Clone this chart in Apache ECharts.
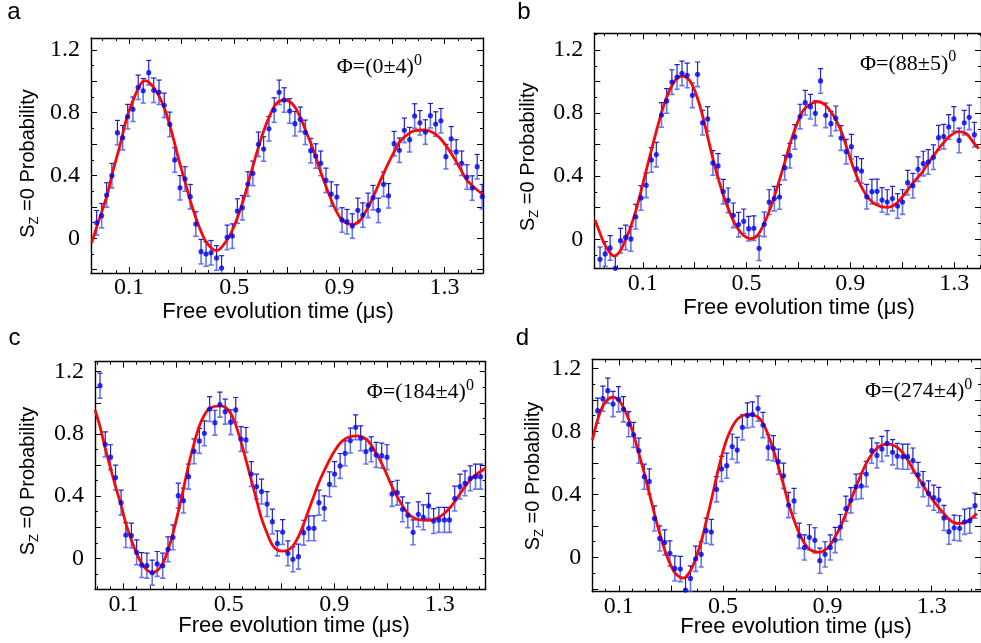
<!DOCTYPE html>
<html><head><meta charset="utf-8">
<script src="https://cdn.jsdelivr.net/npm/echarts@6/dist/echarts.min.js"></script>
<style>html,body{margin:0;padding:0;background:#fff}#c{width:981px;height:643px}</style>
</head><body><div id="c"></div>
<script>
// ---------- tick labels ----------
const xTickLabels = [0.1, 0.5, 0.9, 1.3];
const yTickLabels = [0, 0.4, 0.8, 1.2];
const xMajorTicks = [-0.1, 0.1, 0.3, 0.5, 0.7, 0.9, 1.1, 1.3, 1.5];
const xMinorTicks = [-0.1,-0.05,0,0.05,0.1,0.15,0.2,0.25,0.3,0.35,0.4,0.45,0.5,0.55,0.6,0.65,0.7,0.75,0.8,0.85,0.9,0.95,1.0,1.05,1.1,1.15,1.2,1.25,1.3,1.35,1.4,1.45,1.5];
const yMajorTicks = [-0.2, 0, 0.2, 0.4, 0.6, 0.8, 1.0, 1.2];
const yMinorTicks = [-0.2,-0.1,0,0.1,0.2,0.3,0.4,0.5,0.6,0.7,0.8,0.9,1.0,1.1,1.2,1.3];
const panelLetters = ['a', 'b', 'c', 'd'];
const phiLabels = ['Φ=(0±4)', 'Φ=(88±5)', 'Φ=(184±4)', 'Φ=(274±4)'];
const xTitle = 'Free evolution time (μs)';
const errorHalf = [0.078, 0.078, 0.08, 0.08];

// ---------- panel a ----------
const aTime = [-0.023,-0.004,0.015,0.035,0.056,0.076,0.095,0.115,0.135,0.154,0.175,0.194,0.214,0.234,0.255,0.274,0.294,0.313,0.333,0.354,0.374,0.393,0.412,0.433,0.452,0.473,0.493,0.512,0.531,0.552,0.571,0.592,0.612,0.632,0.652,0.671,0.690,0.711,0.731,0.751,0.770,0.791,0.810,0.829,0.849,0.869,0.890,0.910,0.929,0.949,0.970,0.989,1.009,1.028,1.048,1.068,1.087,1.108,1.128,1.147,1.167,1.186,1.206,1.227,1.246,1.266,1.286,1.305,1.325,1.344,1.365,1.385,1.405,1.424,1.443];
const aProb = [0.099,0.144,0.276,0.399,0.673,0.641,0.775,0.822,0.962,0.940,1.055,0.943,0.930,0.847,0.726,0.499,0.322,0.378,0.265,0.091,-0.085,-0.100,-0.092,-0.125,-0.189,0.006,0.014,0.174,0.195,0.346,0.414,0.599,0.569,0.698,0.817,0.930,0.881,0.811,0.730,0.758,0.675,0.558,0.524,0.478,0.369,0.282,0.263,0.117,0.106,0.078,0.178,0.148,0.210,0.259,0.178,0.344,0.271,0.603,0.561,0.688,0.628,0.779,0.736,0.677,0.781,0.728,0.749,0.520,0.634,0.550,0.478,0.390,0.320,0.456,0.265];
const aFitT = [-0.042,-0.010,0.015,0.040,0.066,0.091,0.116,0.142,0.161,0.186,0.212,0.237,0.262,0.288,0.313,0.338,0.364,0.389,0.414,0.431,0.452,0.484,0.509,0.535,0.560,0.585,0.611,0.636,0.661,0.693,0.725,0.750,0.776,0.801,0.826,0.852,0.877,0.902,0.928,0.953,0.978,1.004,1.029,1.054,1.080,1.105,1.130,1.156,1.187,1.225,1.257,1.283,1.308,1.333,1.359,1.384,1.416,1.445];
const aFitY = [-0.028,0.138,0.265,0.435,0.594,0.764,0.881,0.977,1.004,0.977,0.913,0.817,0.679,0.509,0.361,0.212,0.085,-0.011,-0.064,-0.079,-0.058,0.021,0.117,0.244,0.393,0.541,0.679,0.785,0.860,0.881,0.849,0.775,0.669,0.563,0.435,0.318,0.212,0.133,0.095,0.089,0.113,0.181,0.266,0.361,0.457,0.541,0.616,0.658,0.686,0.690,0.673,0.637,0.584,0.520,0.446,0.372,0.319,0.281];

// ---------- panel b ----------
const bTime = [-0.065,-0.045,-0.026,-0.006,0.014,0.034,0.054,0.073,0.093,0.113,0.133,0.152,0.172,0.192,0.212,0.232,0.251,0.271,0.291,0.311,0.330,0.350,0.370,0.390,0.410,0.429,0.449,0.469,0.489,0.508,0.528,0.548,0.568,0.587,0.607,0.627,0.647,0.667,0.686,0.706,0.726,0.746,0.765,0.785,0.805,0.825,0.844,0.864,0.884,0.904,0.924,0.943,0.963,0.983,1.003,1.022,1.042,1.062,1.082,1.101,1.121,1.141,1.161,1.181,1.200,1.220,1.240,1.260,1.279,1.299,1.319,1.339,1.358,1.378];
const bProb = [-0.127,-0.093,-0.055,-0.184,-0.009,0.012,0.002,0.143,0.262,0.342,0.503,0.537,0.788,0.877,0.997,1.029,1.052,1.039,0.913,1.046,0.739,0.763,0.484,0.465,0.302,0.247,0.152,0.093,0.114,0.067,0.070,-0.057,0.095,0.236,0.258,0.268,0.454,0.530,0.649,0.778,0.866,0.841,0.799,1.004,0.786,0.733,0.767,0.642,0.556,0.587,0.446,0.433,0.270,0.302,0.304,0.249,0.236,0.258,0.211,0.236,0.359,0.340,0.444,0.480,0.490,0.520,0.644,0.651,0.712,0.763,0.627,0.739,0.773,0.663];
const bFitT = [-0.084,-0.065,-0.046,-0.027,-0.012,0.011,0.030,0.049,0.074,0.099,0.125,0.150,0.175,0.201,0.226,0.251,0.277,0.302,0.328,0.353,0.378,0.404,0.429,0.454,0.480,0.499,0.518,0.543,0.568,0.594,0.619,0.644,0.670,0.695,0.720,0.752,0.777,0.803,0.834,0.860,0.885,0.910,0.936,0.961,0.987,1.018,1.047,1.075,1.101,1.126,1.151,1.177,1.189,1.221,1.253,1.284,1.316,1.348,1.379,1.395];
const bFitY = [0.122,0.038,-0.036,-0.085,-0.106,-0.079,-0.015,0.059,0.186,0.344,0.513,0.671,0.819,0.936,1.010,1.035,1.014,0.936,0.799,0.629,0.460,0.312,0.196,0.101,0.038,0.013,0.004,0.027,0.101,0.207,0.334,0.471,0.619,0.735,0.820,0.862,0.872,0.851,0.787,0.703,0.587,0.461,0.355,0.281,0.232,0.207,0.203,0.224,0.271,0.324,0.376,0.425,0.455,0.530,0.600,0.655,0.683,0.668,0.604,0.575];

// ---------- panel c ----------
const cTime = [0.011,0.031,0.051,0.070,0.091,0.109,0.130,0.150,0.169,0.189,0.209,0.228,0.249,0.269,0.288,0.308,0.328,0.347,0.368,0.388,0.407,0.427,0.447,0.466,0.486,0.507,0.526,0.546,0.565,0.585,0.605,0.624,0.645,0.665,0.684,0.704,0.724,0.743,0.764,0.784,0.803,0.823,0.842,0.862,0.882,0.901,0.922,0.941,0.961,0.981,1.000,1.020,1.040,1.059,1.080,1.100,1.119,1.139,1.159,1.179,1.199,1.219,1.238,1.258,1.277,1.297,1.318,1.337,1.357,1.377,1.396,1.416,1.436,1.455];
const cProb = [1.110,0.733,0.650,0.519,0.358,0.150,0.146,0.039,-0.043,-0.047,-0.092,-0.036,-0.047,0.058,0.135,0.403,0.371,0.525,0.688,0.755,0.804,0.960,0.872,0.988,0.943,0.875,0.954,0.767,0.761,0.542,0.461,0.429,0.349,0.236,0.096,0.169,0.032,-0.006,0.011,0.165,0.193,0.193,0.358,0.322,0.476,0.542,0.594,0.675,0.757,0.842,0.772,0.686,0.701,0.665,0.660,0.650,0.414,0.422,0.315,0.277,0.167,0.283,0.264,0.337,0.240,0.247,0.247,0.247,0.384,0.461,0.482,0.514,0.525,0.525];
const cFitT = [-0.008,0.011,0.031,0.051,0.070,0.091,0.109,0.130,0.150,0.169,0.189,0.209,0.228,0.249,0.269,0.288,0.308,0.328,0.347,0.368,0.388,0.407,0.427,0.466,0.486,0.507,0.526,0.546,0.565,0.585,0.605,0.624,0.645,0.665,0.684,0.704,0.724,0.743,0.764,0.784,0.803,0.823,0.842,0.862,0.882,0.901,0.922,0.941,0.961,0.991,1.020,1.040,1.059,1.080,1.100,1.119,1.139,1.159,1.179,1.199,1.225,1.257,1.277,1.297,1.318,1.337,1.357,1.377,1.396,1.416,1.436,1.474];
const cFitY = [0.954,0.847,0.707,0.579,0.461,0.343,0.225,0.118,0.032,-0.032,-0.075,-0.092,-0.079,-0.032,0.054,0.161,0.300,0.450,0.600,0.739,0.851,0.921,0.965,0.980,0.971,0.933,0.858,0.750,0.632,0.504,0.375,0.257,0.161,0.086,0.054,0.047,0.054,0.079,0.139,0.221,0.311,0.403,0.489,0.564,0.632,0.690,0.740,0.768,0.783,0.787,0.768,0.729,0.675,0.611,0.536,0.461,0.397,0.337,0.290,0.262,0.247,0.245,0.251,0.264,0.290,0.322,0.365,0.414,0.461,0.504,0.536,0.579];

// ---------- panel d ----------
const dTime = [0.019,0.039,0.058,0.078,0.099,0.118,0.138,0.157,0.177,0.198,0.217,0.237,0.257,0.276,0.296,0.315,0.336,0.356,0.375,0.395,0.416,0.435,0.455,0.475,0.494,0.514,0.535,0.554,0.574,0.593,0.613,0.634,0.653,0.673,0.693,0.712,0.732,0.751,0.772,0.792,0.812,0.831,0.852,0.871,0.891,0.911,0.930,0.950,0.971,0.990,1.010,1.030,1.049,1.070,1.090,1.109,1.129,1.150,1.168,1.189,1.208,1.228,1.248,1.267,1.288,1.308,1.327,1.347,1.366,1.386,1.407,1.426,1.446,1.466];
const dProb = [0.931,1.007,1.058,0.973,1.003,0.940,0.845,0.777,0.677,0.512,0.482,0.247,0.120,0.095,0.025,-0.070,-0.074,-0.208,-0.134,-0.009,0.019,0.169,0.161,0.432,0.561,0.582,0.703,0.681,0.825,0.901,0.907,0.944,0.840,0.698,0.692,0.607,0.518,0.332,0.358,0.137,0.063,0.127,0.108,-0.021,0.019,0.063,0.110,0.192,0.309,0.362,0.448,0.453,0.529,0.677,0.647,0.688,0.724,0.667,0.643,0.639,0.639,0.614,0.523,0.465,0.406,0.379,0.364,0.250,0.163,0.188,0.184,0.226,0.233,0.328];
const dFitT = [-0.001,0.019,0.039,0.058,0.078,0.099,0.118,0.138,0.157,0.177,0.198,0.217,0.237,0.257,0.276,0.296,0.315,0.336,0.345,0.356,0.375,0.395,0.416,0.435,0.455,0.475,0.494,0.514,0.535,0.554,0.574,0.593,0.611,0.634,0.653,0.673,0.693,0.712,0.732,0.751,0.772,0.792,0.812,0.831,0.852,0.871,0.891,0.911,0.930,0.950,0.971,0.990,1.010,1.030,1.049,1.070,1.090,1.109,1.137,1.168,1.189,1.208,1.228,1.248,1.267,1.282,1.314,1.346,1.378,1.403,1.435,1.473];
const dFitY = [0.745,0.872,0.961,1.003,1.016,0.999,0.952,0.876,0.777,0.660,0.533,0.406,0.275,0.152,0.047,-0.038,-0.098,-0.127,-0.131,-0.127,-0.085,-0.007,0.099,0.226,0.364,0.512,0.639,0.750,0.828,0.876,0.899,0.908,0.905,0.890,0.851,0.777,0.682,0.576,0.459,0.343,0.237,0.152,0.089,0.051,0.036,0.032,0.047,0.078,0.131,0.195,0.279,0.364,0.449,0.529,0.597,0.654,0.692,0.713,0.719,0.698,0.664,0.618,0.559,0.505,0.459,0.417,0.343,0.279,0.226,0.215,0.226,0.279];

const panelData = [
  {t: aTime, p: aProb, ft: aFitT, fy: aFitY},
  {t: bTime, p: bProb, ft: bFitT, fy: bFitY},
  {t: cTime, p: cProb, ft: cFitT, fy: cFitY},
  {t: dTime, p: dProb, ft: dFitT, fy: dFitY}
];

// ---------- layout (pixels, styles) ----------
const layout = [
  {grid:{left:91, top:38, width:392, height:235}, x:[-0.0445,1.446], y:[-0.221,1.276], letter:[14,12.5], xt:[278,312], yt:[34,163.5], phi:[336.7,67.5]},
  {grid:{left:594.3, top:33.3, width:392, height:235}, x:[-0.087,1.4035], y:[-0.184,1.306], letter:[524,12.8], xt:[799,308], yt:[534,156.7], phi:[860,64]},
  {grid:{left:95, top:361.7, width:390.7, height:227.6}, x:[-0.008,1.4746], y:[-0.199,1.264], letter:[14.5,338.8], xt:[294,626], yt:[34,481], phi:[366.7,392.5]},
  {grid:{left:592.3, top:359.3, width:392, height:232.4}, x:[-0.0015,1.489], y:[-0.218,1.257], letter:[522.5,338.3], xt:[796,627], yt:[539,476], phi:[865,391.7]}
];

const SERIF = 'Liberation Serif';
const SANS = 'Liberation Sans';
const frameLine = {show:true, onZero:false, lineStyle:{color:'#000', width:1.4}};
const noLine = {show:false, onZero:false};
function tick(len, vals){ return {show:true, inside:true, length:len, customValues:vals, lineStyle:{color:'#000', width:1}}; }

const grids = [], xAxes = [], yAxes = [], series = [], graphics = [];
layout.forEach((L, i) => {
  grids.push(Object.assign({containLabel:false}, L.grid));
  const bx = {gridIndex:i, type:'value', min:L.x[0], max:L.x[1], splitLine:{show:false}};
  const by = {gridIndex:i, type:'value', min:L.y[0], max:L.y[1], splitLine:{show:false}};
  xAxes.push(
    Object.assign({}, bx, {position:'bottom', axisLine:frameLine, axisTick:tick(6, xMajorTicks),
      axisLabel:{show:true, customValues:xTickLabels, margin:3, color:'#000', fontFamily:SERIF, fontSize:24}}),
    Object.assign({}, bx, {position:'bottom', axisLine:noLine, axisTick:tick(3, xMinorTicks), axisLabel:{show:false}}),
    Object.assign({}, bx, {position:'top', axisLine:frameLine, axisTick:tick(6, xMajorTicks), axisLabel:{show:false}}),
    Object.assign({}, bx, {position:'top', axisLine:noLine, axisTick:tick(3, xMinorTicks), axisLabel:{show:false}})
  );
  yAxes.push(
    Object.assign({}, by, {position:'left', axisLine:frameLine, axisTick:tick(6, yMajorTicks),
      axisLabel:{show:true, customValues:yTickLabels, margin:11, color:'#000', fontFamily:SERIF, fontSize:24}}),
    Object.assign({}, by, {position:'left', axisLine:noLine, axisTick:tick(3, yMinorTicks), axisLabel:{show:false}}),
    Object.assign({}, by, {position:'right', axisLine:frameLine, axisTick:tick(6, yMajorTicks), axisLabel:{show:false}}),
    Object.assign({}, by, {position:'right', axisLine:noLine, axisTick:tick(3, yMinorTicks), axisLabel:{show:false}})
  );
  const D = panelData[i];
  const err = errorHalf[i];
  series.push({
    type:'custom', xAxisIndex:4*i, yAxisIndex:4*i, clip:true, silent:true, z:2,
    data: D.t.map((t, k) => [t, D.p[k], err]),
    renderItem: function(params, api){
      const x = api.value(0), y = api.value(1), e = api.value(2);
      const c = api.coord([x, y]), hi = api.coord([x, y + e]), lo = api.coord([x, y - e]);
      const cw = 2.6;
      return {type:'group', children:[
        {type:'line', shape:{x1:c[0], y1:hi[1], x2:c[0], y2:c[1]}, style:{stroke:'#1f1fd0', lineWidth:1.2}},
        {type:'line', shape:{x1:c[0]-cw, y1:hi[1], x2:c[0]+cw, y2:hi[1]}, style:{stroke:'#1f1fd0', lineWidth:1.2}},
        {type:'line', shape:{x1:c[0], y1:c[1], x2:c[0], y2:lo[1]}, style:{stroke:'#6676ee', lineWidth:1.6}},
        {type:'line', shape:{x1:c[0]-cw, y1:lo[1], x2:c[0]+cw, y2:lo[1]}, style:{stroke:'#6676ee', lineWidth:1.6}}
      ]};
    }
  });
  series.push({
    type:'line', xAxisIndex:4*i, yAxisIndex:4*i, clip:true, silent:true, z:3,
    data: D.ft.map((t, k) => [t, D.fy[k]]),
    showSymbol:false, smooth:0.3, lineStyle:{color:'#f50a0a', width:2.8}
  });
  series.push({
    type:'scatter', xAxisIndex:4*i, yAxisIndex:4*i, clip:true, silent:true, z:4,
    data: D.t.map((t, k) => [t, D.p[k]]),
    symbol:'circle', symbolSize:5.2, itemStyle:{color:'#0000ee'}
  });

  graphics.push(
    {type:'text', x:L.letter[0], y:L.letter[1], style:{text:panelLetters[i], fontFamily:SANS, fontSize:24, fill:'#000', textAlign:'center', textVerticalAlign:'middle'}},
    {type:'text', x:L.xt[0], y:L.xt[1], style:{text:xTitle, fontFamily:SANS, fontSize:22, fill:'#000', textAlign:'center', textVerticalAlign:'middle'}},
    {type:'text', x:L.yt[0], y:L.yt[1], rotation:Math.PI/2,
      style:{text:'{n|S}{s|Z}{n| =0 Probability}', textAlign:'center', textVerticalAlign:'middle', fill:'#000',
        rich:{n:{fontFamily:SANS, fontSize:20, lineHeight:20, verticalAlign:'top', fill:'#000'},
              s:{fontFamily:SANS, fontSize:13, lineHeight:32, fill:'#000'}}}},
    {type:'text', x:L.phi[0], y:L.phi[1],
      style:{text:'{m|' + phiLabels[i] + '}{s|0}', textAlign:'left', textVerticalAlign:'middle', fill:'#000',
        rich:{m:{fontFamily:SERIF, fontSize:22, lineHeight:30, fill:'#000'},
              s:{fontFamily:SERIF, fontSize:16, lineHeight:16, verticalAlign:'top', fill:'#000'}}}}
  );
});

const chart = echarts.init(document.getElementById('c'), null, {renderer:'canvas'});
chart.setOption({
  animation:false,
  backgroundColor:'#ffffff',
  grid:grids, xAxis:xAxes, yAxis:yAxes, series:series, graphic:graphics
});
</script>
</body></html>
